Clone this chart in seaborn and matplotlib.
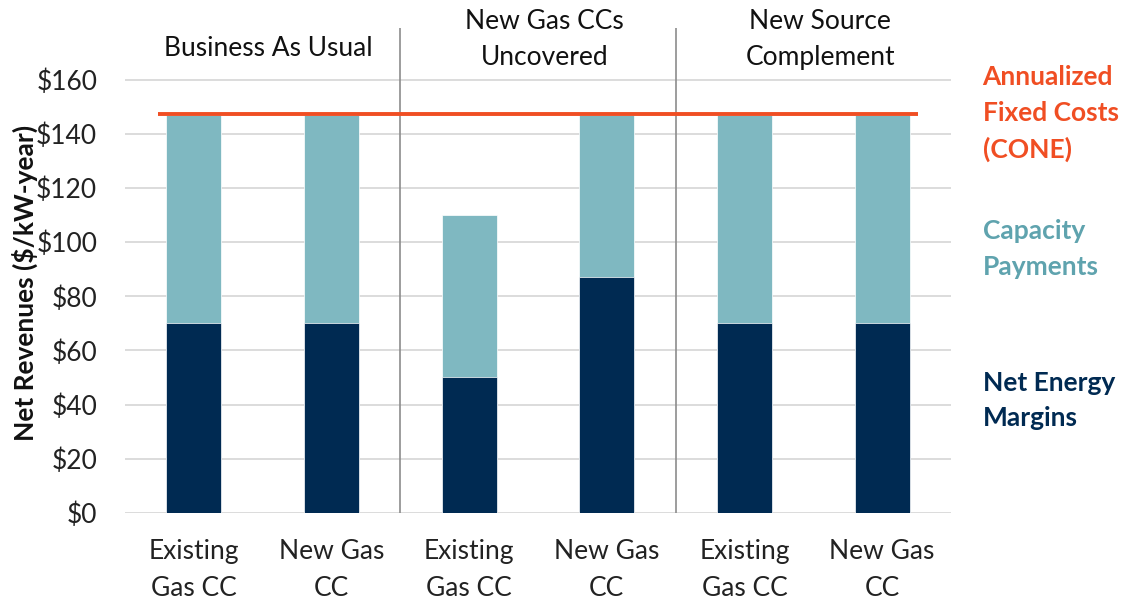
import matplotlib
matplotlib.use("Agg")
import matplotlib.pyplot as plt
import seaborn as sns
import pandas as pd

# Data ($/kW-year)
scenarios = ["Business As Usual", "New Gas CCs\nUncovered", "New Source\nComplement"]
resources = ["Existing\nGas CC", "New Gas\nCC"] * 3
energy_margins = [70, 70, 50, 87, 70, 70]
capacity_payments = [77, 77, 60, 60, 77, 77]
cone = 147.5
y_ticks = [0, 20, 40, 60, 80, 100, 120, 140, 160]

NAVY = "#002A52"
TEAL = "#7FB8C1"
RED = "#F04E23"

sns.set_theme(style="white")
plt.rcParams["font.family"] = ["Lato", "DejaVu Sans"]

FS = 19
LS = 1.58

slots = [f"s{i}" for i in range(len(resources))]
df = pd.DataFrame({
    "slot": slots,
    "energy": energy_margins,
    "total": [e + c for e, c in zip(energy_margins, capacity_payments)],
})

fig = plt.figure(figsize=(11.25, 6.02), dpi=100)
ax = fig.add_axes([0.1111, 0.1483, 0.7342, 0.8052])

# Stacked bars: full height (capacity on top) then energy margins over it
sns.barplot(data=df, x="slot", y="total", order=slots, color=TEAL,
            width=0.4, saturation=1, edgecolor="white", linewidth=0.5, ax=ax)
sns.barplot(data=df, x="slot", y="energy", order=slots, color=NAVY,
            width=0.4, saturation=1, edgecolor="white", linewidth=0.5, ax=ax)

ytop = 179.2
ax.set_xlim(-0.5, 5.5)
ax.set_ylim(0, ytop)
ax.set_yticks(y_ticks)
ax.set_yticklabels([f"${v}" for v in y_ticks], fontsize=FS, color="#222222")
ax.set_xticks(range(len(resources)))
ax.set_xticklabels(resources, fontsize=FS, color="#222222", linespacing=LS)
ax.tick_params(axis="y", length=0, pad=20)
ax.tick_params(axis="x", length=0, pad=19)
ax.set_xlabel("")
ax.set_ylabel("Net Revenues ($/kW-year)", fontsize=19, fontweight="bold",
              color="#111111")
ax.yaxis.set_label_coords(-0.105, 0.474)

ax.yaxis.grid(True, color="#D9D9D9", linewidth=1.3)
ax.set_axisbelow(True)
for s in ax.spines.values():
    s.set_visible(False)

# Scenario separators
ax.vlines([1.5, 3.5], 0, ytop, color="#8C8C8C", linewidth=1.2, zorder=3)

# Annualized fixed cost line
ax.hlines(cone, -0.26, 5.26, color=RED, linewidth=2.8, zorder=4)

# Scenario headers
ax.text(0.54, 171.5, scenarios[0], ha="center", va="center", fontsize=FS, color="#111111")
ax.text(2.55, 175.0, scenarios[1], ha="center", va="center", fontsize=FS,
        color="#111111", linespacing=LS)
ax.text(4.55, 175.0, scenarios[2], ha="center", va="center", fontsize=FS,
        color="#111111", linespacing=LS)

# Series labels on the right
ax.text(5.73, cone, "Annualized\nFixed Costs\n(CONE)", ha="left", va="center",
        fontsize=FS, fontweight="bold", color=RED, linespacing=LS)
ax.text(5.73, 97.5, "Capacity\nPayments", ha="left", va="center",
        fontsize=FS, fontweight="bold", color="#5FA3AE", linespacing=LS)
ax.text(5.73, 41.5, "Net Energy\nMargins", ha="left", va="center",
        fontsize=FS, fontweight="bold", color=NAVY, linespacing=LS)

fig.savefig("out.png", dpi=100)
